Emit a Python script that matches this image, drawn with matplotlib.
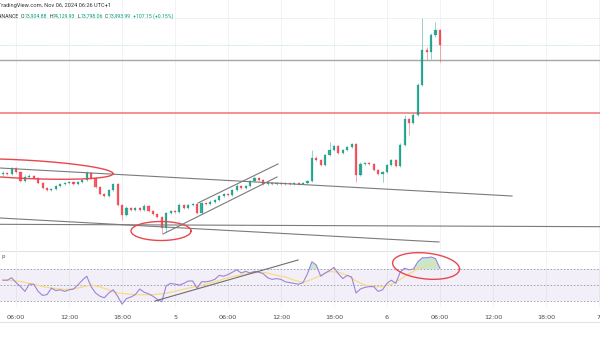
import numpy as np
import matplotlib.pyplot as plt
from matplotlib.lines import Line2D

# time in hours from Nov 5 00:00, 30 minute candles
t_start = -19.5
t_step = 0.5
first_open = 69050

closes = [69100, 69060, 69290, 69130, 68790, 68940, 68980, 68900, 68710, 68520,
          68450, 68490, 68600, 68680, 68710, 68750, 68680, 68750, 68830, 69100,
          68900, 68560, 68290, 68220, 68450, 68680, 67880, 67500, 67760, 67690,
          67760, 67690, 67840, 67650, 67530, 67420, 67000, 67570, 67650, 67610,
          67880, 67760, 67880, 67910, 67570, 67950, 67910, 67990, 68070, 68220,
          68290, 68260, 68450, 68600, 68520, 68600, 68790, 68900, 68830, 68680,
          68710, 68690, 68720, 68670, 68700, 68660, 68700, 68690, 68720, 68790,
          69670, 69590, 69400, 69780, 69970, 70120, 69860, 69970, 70090, 70200,
          69020, 69440, 69480, 69440, 69210, 69060, 69130, 69400, 69590, 69360,
          70160, 71150, 71000, 71300, 72450, 73780, 73710, 74350, 74540, 73970]

highs = [69180, 69150, 69330, 69310, 69160, 69000, 69050, 69020, 68930, 68740,
         68560, 68540, 68650, 68720, 68760, 68800, 68790, 68800, 68880, 69180,
         69120, 68920, 68590, 68330, 68480, 68720, 68700, 67910, 67820, 67800,
         67810, 67790, 67900, 67870, 67680, 67560, 67440, 67620, 67700, 67690,
         67950, 67900, 67930, 67970, 67940, 68000, 68000, 68050, 68120, 68270,
         68340, 68330, 68500, 68660, 68640, 68650, 68840, 68980, 68940, 68860,
         68760, 68740, 68750, 68740, 68760, 68730, 68750, 68740, 68760, 68840,
         69970, 69760, 69620, 69830, 70290, 70180, 70150, 70010, 70140, 70250,
         70220, 69500, 69530, 69520, 69470, 69240, 69180, 69450, 69640, 69620,
         70220, 71300, 71200, 71380, 72520, 75000, 73900, 74420, 74850, 74600]

lows = [68990, 69000, 69030, 69080, 68740, 68760, 68900, 68860, 68660, 68480,
        68400, 68420, 68460, 68570, 68640, 68680, 68640, 68650, 68720, 68800,
        68860, 68520, 68250, 68170, 68190, 68420, 67830, 67300, 67460, 67640,
        67650, 67650, 67660, 67600, 67490, 67370, 66810, 66850, 67530, 67560,
        67580, 67720, 67730, 67850, 67530, 67540, 67870, 67880, 67950, 68030,
        68180, 68210, 68230, 68420, 68480, 68490, 68570, 68760, 68790, 68640,
        68650, 68640, 68650, 68640, 68650, 68640, 68650, 68640, 68660, 68680,
        68770, 69540, 69350, 69370, 69740, 69930, 69820, 69830, 69940, 70050,
        68750, 68990, 69400, 69400, 69170, 69000, 68750, 69100, 69370, 69310,
        69330, 70130, 70550, 70960, 71270, 72420, 73400, 73450, 74280, 73320]

rsi = [56, 56, 59, 53, 48, 42, 51, 51, 42, 37,
       38, 46, 43, 44, 42, 44, 45, 50, 56, 61,
       48, 40, 36, 34, 40, 44, 36, 26, 33, 35,
       38, 45, 41, 39, 36, 32, 29, 49, 52, 51,
       50, 52, 55, 55, 46, 54, 54, 55, 57, 62,
       61, 63, 66, 69, 65, 67, 65, 67, 66, 64,
       59, 57, 58, 57, 54, 53, 52, 51, 53, 64,
       79, 75, 61, 65, 68, 72, 64, 58, 62, 60,
       40, 45, 47, 48, 48, 42, 44, 52, 56, 52,
       66, 71, 69, 70, 79, 84, 84, 85, 83, 71]

# hourly smoothed rsi
rsi_sma = [56.5, 55.5, 54.5, 52, 49.5, 47, 45.5, 44.5, 45, 47.5,
           50, 47.5, 44, 40, 39, 38, 38, 38, 39, 41,
           43.5, 46, 48.5, 51, 54, 57.5, 60.5, 62.5, 64.5, 66,
           65, 62, 60, 56, 53, 57, 62, 67, 66, 62,
           55, 50, 48, 48, 51, 57, 64, 70, 74, 78]

tick_hours = [-18, -12, -6, 0, 6, 12, 18, 24, 30, 36, 42, 48]
tick_labels = ["06:00", "12:00", "18:00", "5", "06:00", "12:00",
               "18:00", "6", "06:00", "12:00", "18:00", "7"]

gray_level = 73400
red_level = 71380
session_high = 75000

# drawn trend lines: (hour, price) pairs
trend_lines = [
    [(-19.82, 69285), (38.17, 68218)],
    [(-19.82, 67380), (29.90, 66466)],
    [(-19.82, 67140), (48.13, 67049)],
    [(2.60, 67952), (11.66, 69438)],
    [(-1.36, 66771), (11.55, 68942)],
]
rsi_trend = [(-2.26, 30), (13.93, 81.25)]

# ellipses: centre hour, centre value, half width (h), half height, tilt per hour
price_ellipses = [(-17.55, 69247, 10.53, 350, -16.8),
                  (-1.585, 66885, 3.40, 362, 0.0)]
rsi_ellipses = [(28.43, 73.75, 3.79, 16.25, -0.99)]

header = 'TradingView.com, Nov 06, 2024 06:26 UTC+1'
ohlc_parts = [('BINANCE', 'dark'), ('O', 'dark'), ('73,904.88', 'val'),
              ('H', 'dark'), ('74,129.93', 'val'), ('L', 'dark'),
              ('73,798.06', 'val'), ('C', 'dark'), ('73,993.99', 'val'),
              ('+107.15 (+0.15%)', 'val')]

GREEN = '#089981'
RED = '#f23645'
GRID = '#f2f3f6'


def ellipse_pts(tc, vc, a, b, tilt):
    th = np.linspace(0, 2 * np.pi, 200)
    dt = a * np.cos(th)
    return tc + dt, vc + b * np.sin(th) + tilt * dt


fig = plt.figure(figsize=(6, 3.37), dpi=100)
H = 337.0
ax = fig.add_axes([0, 1 - 250 / H, 1, 250 / H])
ax_r = fig.add_axes([0, 1 - 307 / H, 1, 56 / H])

x_left, x_right = -19.82, 48.13
for a_ in (ax, ax_r):
    a_.set_xlim(x_left, x_right)
    for s in a_.spines.values():
        s.set_visible(False)
    for th in tick_hours:
        a_.axvline(th, color=GRID, lw=0.7, zorder=0)
ax.set_ylim(66161, 75686)
ax.set_xticks([])
ax.set_yticks([])

# candles
times = t_start + t_step * np.arange(len(closes))
opens = [first_open] + closes[:-1]
for t, o, c, hi, lo in zip(times, opens, closes, highs, lows):
    col = GREEN if c >= o else RED
    ax.vlines(t, lo, hi, color=col, lw=0.5, alpha=0.6, zorder=3)
    ax.bar(t, max(abs(c - o), 20), bottom=min(o, c), width=0.24,
           color=col, edgecolor=col, lw=0.2, alpha=0.8, zorder=4)

ax.axhline(gray_level, color='#a7a7a7', lw=1.0, zorder=2)
ax.axhline(red_level, color='#f77c80', lw=1.2, zorder=2)
ax.axhline(session_high, color='#cfe5df', lw=0.6, ls=(0, (1, 1)), zorder=1)
ax.axhline(closes[-1], color='#b9ddd4', lw=0.6, ls=(0, (1, 1)), zorder=1)

for (t0, p0), (t1, p1) in trend_lines:
    ax.plot([t0, t1], [p0, p1], color='#7a7a7a', lw=0.8, zorder=5)
for e in price_ellipses:
    ex, ey = ellipse_pts(*e)
    ax.plot(ex, ey, color='#e8474f', lw=1.0, zorder=6)

# rsi pane
ax_r.set_ylim(22.5, 92.5)
ax_r.set_yticks([])
ax_r.axhspan(30, 70, color='#7e57c2', alpha=0.09, lw=0, zorder=0)
for lvl in (30, 50, 70):
    ax_r.axhline(lvl, color='#9a9ca6', lw=0.6, ls=(0, (2, 2)), zorder=1)
rsi_arr = np.array(rsi, dtype=float)
ax_r.fill_between(times, 70, rsi_arr, where=rsi_arr > 70, interpolate=True,
                  color='#5cbf7a', alpha=0.35, lw=0, zorder=2)
ax_r.plot(times, rsi, color='#9c84d8', lw=0.8, zorder=3)
sma_times = t_start + np.arange(len(rsi_sma))
ax_r.plot(sma_times, rsi_sma, color='#f6dc82', lw=0.9, zorder=2)
(t0, r0), (t1, r1) = rsi_trend
ax_r.plot([t0, t1], [r0, r1], color='#6e6e6e', lw=0.8, zorder=4)
for e in rsi_ellipses:
    ex, ey = ellipse_pts(*e)
    ax_r.plot(ex, ey, color='#e8474f', lw=1.0, zorder=6)
ax_r.spines['top'].set_visible(True)
ax_r.spines['top'].set_color('#e0e3eb')
ax_r.spines['top'].set_linewidth(0.8)
ax_r.set_xticks(tick_hours)
ax_r.set_xticklabels(tick_labels)
ax_r.tick_params(axis='x', length=0, pad=6, labelsize=4.6, labelcolor='#4a4a4a')
ax_r.text(0.003, 86, 'p', fontsize=4, color='#555555', va='center', ha='left',
          transform=ax_r.get_yaxis_transform())

fig.add_artist(Line2D([0, 1], [1 - 322 / H, 1 - 322 / H], color='#e0e3eb', lw=0.8))

# header texts, laid out one after the other
fig.text(-1.5 / 600, 1 - 5 / H, header, fontsize=4.1, color='#333333', va='center',
         family='Roboto')
renderer = fig.canvas.get_renderer()
x_px = -2.5
for k, (txt, kind) in enumerate(ohlc_parts):
    col = '#333333' if kind == 'dark' else GREEN
    tx = fig.text(x_px / 600, 1 - 16 / H, txt, fontsize=3.7, color=col,
                  va='center', family='Roboto')
    w = tx.get_window_extent(renderer).width
    x_px += w + (0.4 if kind == 'dark' and k > 0 else 2.0)

fig.savefig('out.png', dpi=100, facecolor='white')
